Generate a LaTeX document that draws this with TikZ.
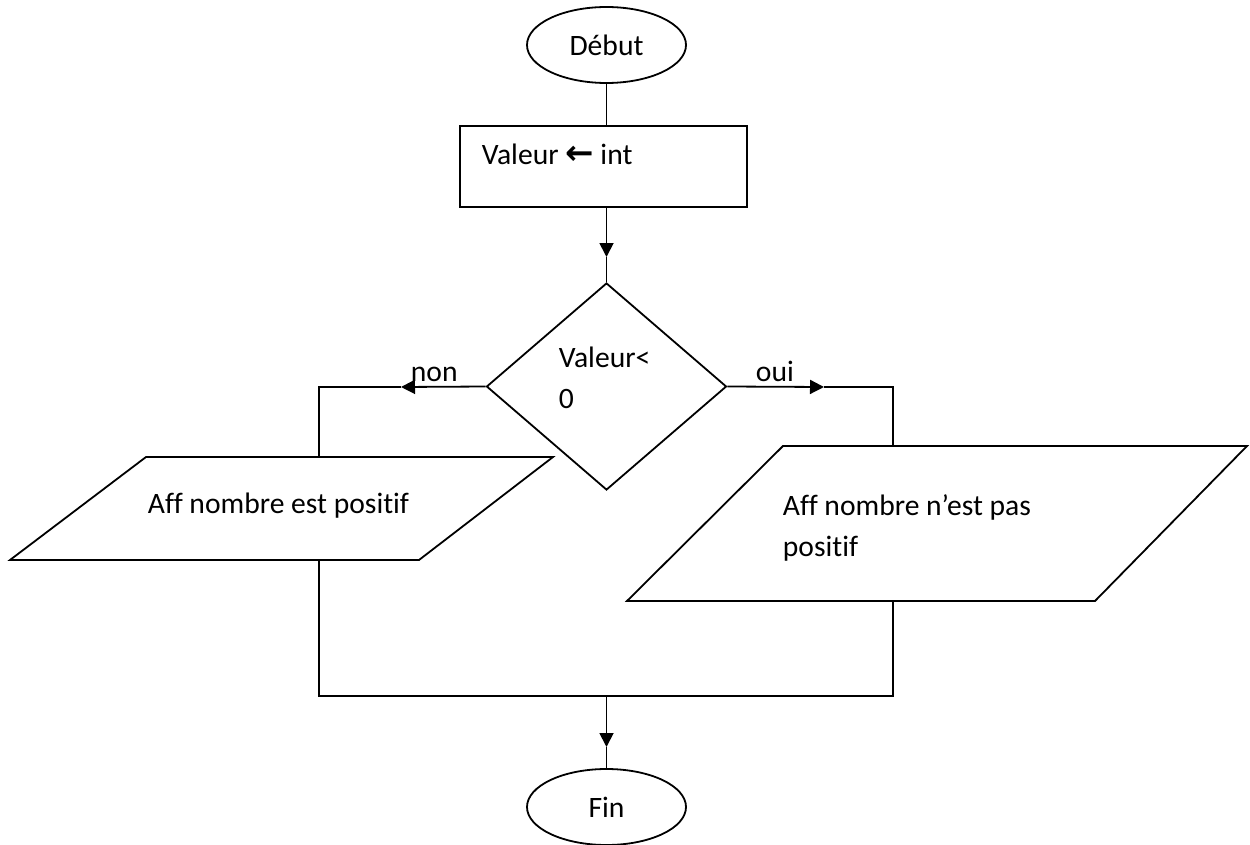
\documentclass[tikz,border=0pt]{standalone}
\usepackage{fontspec}
\setmainfont{Carlito}[Ligatures=NoCommon]
\newfontfamily\symfont{DejaVu Sans}
\usetikzlibrary{shapes.geometric,arrows.meta}

\begin{document}
\begin{tikzpicture}[x=1pt,y=-1pt,
  line width=1.8pt,
  txt/.style={font=\fontsize{29.6}{40.5}\selectfont, inner sep=0pt},
  terminal/.style={draw, ellipse, minimum width=159pt, minimum height=76pt,
                   inner sep=0pt, font=\fontsize{29.6}{40.5}\selectfont},
  flow/.style={-{Triangle[width=14pt,length=14pt]}},
]
\useasboundingbox (0,0) rectangle (1250,845);

% start and end
\node[terminal] (debut) at (606.5,45) {Début};
\node[terminal] (fin) at (606.5,807) {Fin};

% assignment
\node[draw, minimum width=287pt, minimum height=81pt, inner sep=0pt] (init) at (603.5,166.5) {};
\node[txt, anchor=base west] (inittxt) at (481,165)
  {Valeur {\symfont\bfseries\fontsize{34}{36}\selectfont ←} int};

% decision
\node[draw, diamond, minimum width=240pt, minimum height=207pt, inner sep=0pt] (test) at (606.5,386.5) {};
\node[txt, anchor=base west, align=left] (testtxt) at (558,408) {Valeur<\\0};

% output boxes
\coordinate (lp1) at (146,457);  \coordinate (lp2) at (553,457);
\coordinate (lp3) at (419,560);  \coordinate (lp4) at (10,560);
\draw (lp1) -- (lp2) -- (lp3) -- (lp4) -- cycle;
\node[txt, anchor=base west] (lptxt) at (147,513) {Aff nombre est positif};

\coordinate (rp1) at (783,446);  \coordinate (rp2) at (1247,446);
\coordinate (rp3) at (1095,601); \coordinate (rp4) at (627,601);
\draw (rp1) -- (rp2) -- (rp3) -- (rp4) -- cycle;
\node[txt, anchor=base west, align=left] (rptxt) at (782,556) {Aff nombre n’est pas\\positif};

% branch labels
\node[txt, anchor=base west] (non) at (410,381) {non};
\node[txt, anchor=base west] (oui) at (755,381) {oui};

% connection points
\coordinate (tip1) at (606.5,257);
\coordinate (tipnon) at (401,387);
\coordinate (nonbend) at (319,387);
\coordinate (lptop) at (319,457);
\coordinate (lpbot) at (319,560);
\coordinate (tipoui) at (824,387);
\coordinate (ouibend) at (893,387);
\coordinate (rptop) at (893,446);
\coordinate (rpbot) at (893,601);
\coordinate (joinL) at (319,696);
\coordinate (joinR) at (893,696);
\coordinate (joinM) at (606.5,696);
\coordinate (tip3) at (606.5,747);

% connectors
\draw (debut.south) -- (debut.south |- init.north);
\draw[flow] (tip1 |- init.south) -- (tip1);
\draw (tip1) -- (test.north);
\draw[flow] (test.west) -- (tipnon);
\draw (tipnon) -- (nonbend) -- (lptop);
\draw[flow] (test.east) -- (tipoui);
\draw (tipoui) -- (ouibend) -- (rptop);
\draw (lpbot) -- (joinL) -- (joinR) -- (rpbot);
\draw[flow] (joinM) -- (tip3);
\draw (tip3) -- (fin.north);
\end{tikzpicture}
\end{document}
